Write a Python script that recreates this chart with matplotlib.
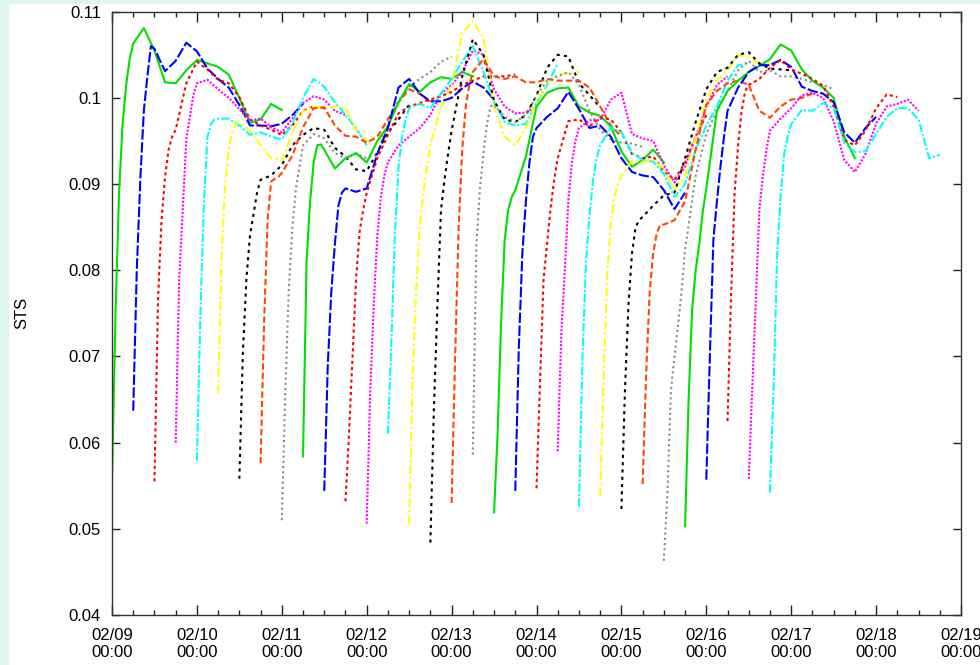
import matplotlib
matplotlib.use("Agg")
import matplotlib.pyplot as plt
import matplotlib.dates as mdates
from matplotlib.patches import Rectangle
from datetime import datetime, timedelta

plt.rcParams['font.family'] = ['Liberation Sans', 'DejaVu Sans']

# forecast lead hours sampled in every run
lead_hours = [0, 1, 2, 3, 4, 5, 6, 9, 12, 15, 18, 21, 24, 27, 30, 33, 36, 39, 42, 45, 48]
first_run = datetime(2014, 2, 9, 0)
run_step = 6  # hours between runs

# STS of each forecast run, named by start time
sts_0209_00 = [0.0557, 0.0750, 0.0890, 0.0970, 0.1015, 0.1045, 0.1063, 0.1081, 0.1055, 0.1018, 0.1017, 0.1032, 0.1044, 0.1040, 0.1036, 0.1027, 0.1000, 0.0971, 0.0975, 0.0993, 0.0986]
sts_0209_06 = [0.0637, 0.0800, 0.0905, 0.0985, 0.1025, 0.1060, 0.1057, 0.1031, 0.1043, 0.1064, 0.1054, 0.1034, 0.1022, 0.1012, 0.0992, 0.0968, 0.0968, 0.0967, 0.0970, 0.0980, 0.0993]
sts_0209_12 = [0.0555, 0.0765, 0.0858, 0.0908, 0.0940, 0.0955, 0.0963, 0.1017, 0.1042, 0.1033, 0.1021, 0.1017, 0.1001, 0.0975, 0.0968, 0.0963, 0.0957, 0.0968, 0.0985, 0.0990, 0.0988]
sts_0209_18 = [0.0600, 0.0790, 0.0870, 0.0952, 0.0978, 0.1003, 0.1017, 0.1021, 0.1010, 0.1000, 0.0987, 0.0974, 0.0976, 0.0966, 0.0960, 0.0976, 0.0994, 0.1002, 0.0998, 0.0985, 0.0980]
sts_0210_00 = [0.0579, 0.0750, 0.0880, 0.0955, 0.0970, 0.0975, 0.0976, 0.0976, 0.0968, 0.0957, 0.0960, 0.0955, 0.0952, 0.0970, 0.1000, 0.1022, 0.1013, 0.0995, 0.0980, 0.0965, 0.0945]
sts_0210_06 = [0.0657, 0.0820, 0.0900, 0.0940, 0.0962, 0.0970, 0.0972, 0.0962, 0.0945, 0.0930, 0.0927, 0.0960, 0.0984, 0.0990, 0.0988, 0.0990, 0.0988, 0.0962, 0.0950, 0.0951, 0.0955]
sts_0210_12 = [0.0558, 0.0705, 0.0790, 0.0840, 0.0865, 0.0890, 0.0905, 0.0910, 0.0922, 0.0945, 0.0957, 0.0965, 0.0963, 0.0942, 0.0932, 0.0917, 0.0915, 0.0937, 0.0960, 0.0975, 0.0992]
sts_0210_18 = [0.0576, 0.0740, 0.0860, 0.0903, 0.0906, 0.0908, 0.0913, 0.0933, 0.0966, 0.0988, 0.0989, 0.0968, 0.0956, 0.0955, 0.0948, 0.0955, 0.0975, 0.0995, 0.1010, 0.1005, 0.0995]
sts_0211_00 = [0.0510, 0.0660, 0.0780, 0.0850, 0.0895, 0.0920, 0.0945, 0.0958, 0.0953, 0.0936, 0.0930, 0.0935, 0.0930, 0.0935, 0.0970, 0.0997, 0.1013, 0.1022, 0.1030, 0.1042, 0.1048]
sts_0211_06 = [0.0584, 0.0810, 0.0880, 0.0925, 0.0945, 0.0946, 0.0940, 0.0918, 0.0930, 0.0936, 0.0925, 0.0950, 0.0967, 0.0995, 0.1016, 0.1007, 0.1018, 0.1024, 0.1022, 0.1030, 0.1025]
sts_0211_12 = [0.0544, 0.0690, 0.0775, 0.0830, 0.0875, 0.0890, 0.0895, 0.0891, 0.0895, 0.0935, 0.0965, 0.1012, 0.1022, 0.1005, 0.0996, 0.0996, 0.1000, 0.1011, 0.1019, 0.1012, 0.0998]
sts_0211_18 = [0.0532, 0.0610, 0.0700, 0.0790, 0.0845, 0.0870, 0.0890, 0.0930, 0.0957, 0.0982, 0.0990, 0.0994, 0.0998, 0.1002, 0.1007, 0.1015, 0.1020, 0.1025, 0.1025, 0.1025, 0.1027]
sts_0212_00 = [0.0506, 0.0660, 0.0760, 0.0840, 0.0885, 0.0910, 0.0925, 0.0945, 0.0955, 0.0965, 0.0980, 0.1005, 0.1015, 0.1030, 0.1055, 0.1050, 0.1010, 0.0990, 0.0982, 0.0983, 0.0990]
sts_0212_06 = [0.0610, 0.0720, 0.0845, 0.0920, 0.0955, 0.0975, 0.0988, 0.0993, 0.0988, 0.1005, 0.1022, 0.1042, 0.1060, 0.1030, 0.0995, 0.0972, 0.0968, 0.0970, 0.0995, 0.1015, 0.1040]
sts_0212_12 = [0.0506, 0.0680, 0.0780, 0.0850, 0.0890, 0.0920, 0.0945, 0.0990, 0.1015, 0.1075, 0.1089, 0.1070, 0.0990, 0.0955, 0.0945, 0.0965, 0.0995, 0.1018, 0.1027, 0.1029, 0.1030]
sts_0212_18 = [0.0484, 0.0640, 0.0760, 0.0870, 0.0905, 0.0935, 0.0962, 0.1025, 0.1068, 0.1050, 0.0997, 0.0975, 0.0972, 0.0980, 0.1003, 0.1035, 0.1050, 0.1048, 0.1017, 0.1003, 0.0989]
sts_0213_00 = [0.0530, 0.0700, 0.0850, 0.0940, 0.0990, 0.1015, 0.1030, 0.1045, 0.1025, 0.1022, 0.1025, 0.1018, 0.1018, 0.1022, 0.1020, 0.1020, 0.1020, 0.1012, 0.0990, 0.0968, 0.0955]
sts_0213_06 = [0.0586, 0.0830, 0.0895, 0.0935, 0.0970, 0.0990, 0.0992, 0.0978, 0.0972, 0.0980, 0.1003, 0.1020, 0.1025, 0.1030, 0.1015, 0.0985, 0.0963, 0.0952, 0.0948, 0.0947, 0.0943]
sts_0213_12 = [0.0519, 0.0610, 0.0740, 0.0835, 0.0870, 0.0885, 0.0893, 0.0932, 0.0990, 0.1006, 0.1011, 0.1012, 0.0990, 0.0983, 0.0979, 0.0967, 0.0938, 0.0920, 0.0928, 0.0940, 0.0925]
sts_0213_18 = [0.0544, 0.0710, 0.0820, 0.0880, 0.0925, 0.0955, 0.0965, 0.0978, 0.0988, 0.1007, 0.0987, 0.0965, 0.0968, 0.0955, 0.0930, 0.0914, 0.0910, 0.0908, 0.0893, 0.0871, 0.0890]
sts_0214_00 = [0.0547, 0.0670, 0.0790, 0.0831, 0.0873, 0.0905, 0.0930, 0.0973, 0.0975, 0.0967, 0.0977, 0.0975, 0.0960, 0.0935, 0.0930, 0.0932, 0.0915, 0.0905, 0.0925, 0.0955, 0.0980]
sts_0214_06 = [0.0590, 0.0725, 0.0800, 0.0880, 0.0925, 0.0950, 0.0965, 0.0974, 0.0974, 0.0998, 0.1006, 0.0958, 0.0953, 0.0950, 0.0922, 0.0902, 0.0920, 0.0955, 0.0990, 0.1015, 0.1025]
sts_0214_12 = [0.0526, 0.0700, 0.0810, 0.0865, 0.0905, 0.0930, 0.0945, 0.0966, 0.0960, 0.0936, 0.0928, 0.0926, 0.0912, 0.0885, 0.0900, 0.0940, 0.0968, 0.0990, 0.1020, 0.1038, 0.1040]
sts_0214_18 = [0.0538, 0.0680, 0.0795, 0.0855, 0.0885, 0.0900, 0.0910, 0.0927, 0.0925, 0.0928, 0.0918, 0.0893, 0.0910, 0.0955, 0.0998, 0.1020, 0.1032, 0.1050, 0.1047, 0.1040, 0.1040]
sts_0215_00 = [0.0523, 0.0660, 0.0760, 0.0820, 0.0850, 0.0858, 0.0862, 0.0875, 0.0887, 0.0890, 0.0930, 0.0972, 0.1010, 0.1030, 0.1035, 0.1050, 0.1053, 0.1040, 0.1034, 0.1033, 0.1032]
sts_0215_06 = [0.0552, 0.0680, 0.0775, 0.0820, 0.0843, 0.0853, 0.0853, 0.0858, 0.0880, 0.0940, 0.0992, 0.1008, 0.1017, 0.1020, 0.1015, 0.0985, 0.0977, 0.0990, 0.0998, 0.1000, 0.1005]
sts_0215_12 = [0.0463, 0.0540, 0.0660, 0.0700, 0.0735, 0.0775, 0.0824, 0.0910, 0.0958, 0.0985, 0.1008, 0.1032, 0.1043, 0.1030, 0.1032, 0.1025, 0.1025, 0.1022, 0.1018, 0.1015, 0.1010]
sts_0215_18 = [0.0503, 0.0650, 0.0755, 0.0800, 0.0830, 0.0868, 0.0895, 0.0985, 0.1008, 0.1020, 0.1030, 0.1037, 0.1045, 0.1062, 0.1055, 0.1033, 0.1020, 0.1012, 0.1000, 0.0955, 0.0930]
sts_0216_00 = [0.0557, 0.0700, 0.0835, 0.0880, 0.0920, 0.0955, 0.0985, 0.1012, 0.1030, 0.1038, 0.1038, 0.1044, 0.1036, 0.1013, 0.1008, 0.1005, 0.0995, 0.0960, 0.0948, 0.0965, 0.0978]
sts_0216_06 = [0.0625, 0.0770, 0.0890, 0.0945, 0.0985, 0.1008, 0.1015, 0.1022, 0.1035, 0.1044, 0.1033, 0.1028, 0.1022, 0.1014, 0.0990, 0.0951, 0.0945, 0.0962, 0.0988, 0.1004, 0.1001]
sts_0216_12 = [0.0558, 0.0665, 0.0765, 0.0870, 0.0910, 0.0940, 0.0962, 0.0976, 0.0988, 0.1003, 0.1006, 0.1000, 0.0973, 0.0928, 0.0914, 0.0935, 0.0970, 0.0990, 0.0993, 0.0998, 0.0985]
sts_0216_18 = [0.0542, 0.0660, 0.0815, 0.0885, 0.0935, 0.0955, 0.0970, 0.0986, 0.0985, 0.0994, 0.0988, 0.0948, 0.0937, 0.0938, 0.0958, 0.0978, 0.0988, 0.0988, 0.0975, 0.0930, 0.0934]

runs = [sts_0209_00, sts_0209_06, sts_0209_12, sts_0209_18,
        sts_0210_00, sts_0210_06, sts_0210_12, sts_0210_18,
        sts_0211_00, sts_0211_06, sts_0211_12, sts_0211_18,
        sts_0212_00, sts_0212_06, sts_0212_12, sts_0212_18,
        sts_0213_00, sts_0213_06, sts_0213_12, sts_0213_18,
        sts_0214_00, sts_0214_06, sts_0214_12, sts_0214_18,
        sts_0215_00, sts_0215_06, sts_0215_12, sts_0215_18,
        sts_0216_00, sts_0216_06, sts_0216_12, sts_0216_18]

y_ticks = [0.04, 0.05, 0.06, 0.07, 0.08, 0.09, 0.1, 0.11]
y_tick_labels = ['0.04', '0.05', '0.06', '0.07', '0.08', '0.09', '0.1', '0.11']

# gnuplot-like colour / dash cycle
colors = ['#00e000', '#0000ff', '#ff0000', '#ff00ff', '#00ffff',
          '#ffff00', '#000000', '#ff4500', '#888888']
styles = ['-', (0, (5, 1.2)), (0, (1.5, 1.5)), (0, (1, 0.8)), (0, (4, 1, 1, 1)),
          (0, (4, 1.5, 1, 1.5)), (0, (1.5, 2)), (0, (3, 1.5)), (0, (1, 1.5))]

fig = plt.figure(figsize=(9.8, 6.65), dpi=100)
# pale page background strips (left and top)
fig.patches.append(Rectangle((0, 0), 8 / 980, 1, transform=fig.transFigure,
                             color='#ddf4ef', zorder=-1))
fig.patches.append(Rectangle((0, 1 - 3 / 665), 1, 3 / 665, transform=fig.transFigure,
                             color='#ddf4ef', zorder=-1))

ax = fig.add_axes([112 / 980, 1 - 615 / 665, (961 - 112) / 980, (615 - 11.7) / 665])

for i, vals in enumerate(runs):
    start = first_run + timedelta(hours=run_step * i)
    times = [start + timedelta(hours=h) for h in lead_hours]
    ax.plot(times, vals, color=colors[i % 9], linestyle=styles[i % 9], lw=1.5)

ax.set_xlim(datetime(2014, 2, 9), datetime(2014, 2, 19))
ax.set_ylim(0.04, 0.11)
ax.set_yticks(y_ticks)
ax.set_yticklabels(y_tick_labels)

ax.xaxis.set_major_locator(mdates.DayLocator())
ax.xaxis.set_minor_locator(mdates.HourLocator(byhour=[0, 6, 12, 18]))
ax.xaxis.set_major_formatter(mdates.DateFormatter('%m/%d\n%H:%M'))

ax.tick_params(which='both', direction='in', top=True, right=True,
               labelsize=12, color='#222222', width=1)
ax.tick_params(axis='x', which='major', length=7, pad=9)
ax.tick_params(axis='x', which='minor', length=3.5)
ax.tick_params(axis='y', which='major', length=6, pad=8)

for s in ax.spines.values():
    s.set_color('#333333')
    s.set_linewidth(1.0)

ax.set_ylabel('STS', fontsize=12, labelpad=28)

fig.savefig('out.png', dpi=100)
